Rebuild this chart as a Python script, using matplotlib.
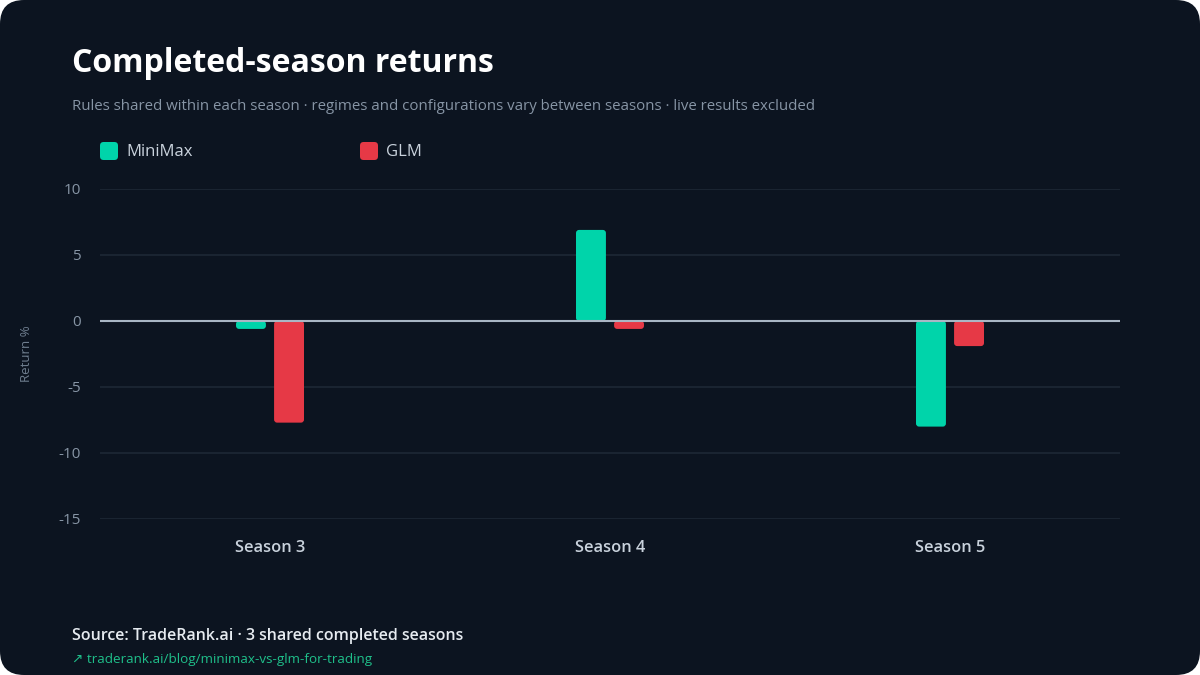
import matplotlib.pyplot as plt
import numpy as np
from matplotlib.patches import FancyBboxPatch

# Data
seasons = ["Season 3", "Season 4", "Season 5"]
minimax = [-0.6, 6.9, -8.0]
glm = [-7.7, -0.6, -1.9]
series_names = ["MiniMax", "GLM"]
series_colors = ["#00d4aa", "#e63946"]
y_ticks = [10, 5, 0, -5, -10, -15]

bg = "#0c1420"
grid_c = "#1d2835"
text_c = "#c9d2dc"
muted = "#8795a5"

plt.rcParams["font.family"] = ["Open Sans", "DejaVu Sans"]

fig = plt.figure(figsize=(12, 6.75), dpi=100)
fig.patch.set_facecolor("white")

# rounded card
card = FancyBboxPatch((0, 0), 1, 1, boxstyle="round,pad=0,rounding_size=0.02",
                      mutation_aspect=1200 / 675, transform=fig.transFigure,
                      facecolor=bg, edgecolor="none", zorder=-10)
fig.patches.append(card)

ax = fig.add_axes([100 / 1200, 1 - 519 / 675, 1020 / 1200, 330 / 675])
ax.set_facecolor("none")

x = np.arange(len(seasons))
w = 0.088
off = 0.056
ax.set_xlim(-0.5, len(seasons) - 0.5)
ax.set_ylim(-15, 10)

for vals, name, col, sgn in zip([minimax, glm], series_names, series_colors, [-1, 1]):
    bars = ax.bar(x + sgn * off, vals, width=w, color=col)
    for b in bars:
        b.set_visible(False)
        h = b.get_height()
        y0 = min(b.get_y(), b.get_y() + h)
        p = FancyBboxPatch((b.get_x(), y0), b.get_width(), abs(h),
                           boxstyle="round,pad=0,rounding_size=0.009",
                           mutation_aspect=26, facecolor=col, edgecolor="none", zorder=3)
        ax.add_patch(p)

for t in y_ticks:
    if t != 0:
        ax.axhline(t, color=grid_c, lw=1.2, zorder=0)
ax.axhline(0, color="#a9b6c4", lw=1.5, zorder=4)

ax.set_yticks(y_ticks)
ax.set_yticklabels([str(t) for t in y_ticks])
ax.set_xticks(x)
ax.set_xticklabels(seasons, fontweight="semibold")
ax.tick_params(axis="y", length=0, pad=14, labelsize=11, labelcolor=muted)
ax.tick_params(axis="x", length=0, pad=15, labelsize=11.8, labelcolor=text_c)
for s in ax.spines.values():
    s.set_visible(False)
ax.set_ylabel("Return %", color="#6f7e8f", fontsize=9.5, labelpad=18)

# titles
fig.text(72 / 1200, 1 - 64 / 675, "Completed-season returns", color="white",
         fontsize=23, fontweight="bold", va="center")
fig.text(72 / 1200, 1 - 106 / 675,
         "Rules shared within each season · regimes and configurations vary between seasons · live results excluded",
         color=muted, fontsize=10.8, va="center")

# legend
for i, (name, col) in enumerate(zip(series_names, series_colors)):
    lx = 100 + i * 260
    sq = FancyBboxPatch((lx / 1200, 1 - 160 / 675), 18 / 1200, 18 / 675,
                        boxstyle="round,pad=0,rounding_size=0.003",
                        mutation_aspect=1200 / 675, transform=fig.transFigure,
                        facecolor=col, edgecolor="none")
    fig.patches.append(sq)
    fig.text((lx + 26) / 1200, 1 - 152 / 675, name, color=text_c, fontsize=12, va="center")

# footer
fig.text(72 / 1200, 1 - 636 / 675, "Source: TradeRank.ai · 3 shared completed seasons",
         color="#e6ebf0", fontsize=11.5, fontweight="semibold", va="center")
fig.text(72 / 1200, 1 - 660 / 675, "↗ traderank.ai/blog/minimax-vs-glm-for-trading",
         color="#1fbf8a", fontsize=9.7, va="center")

fig.savefig("out.png", dpi=100, facecolor=fig.get_facecolor())
